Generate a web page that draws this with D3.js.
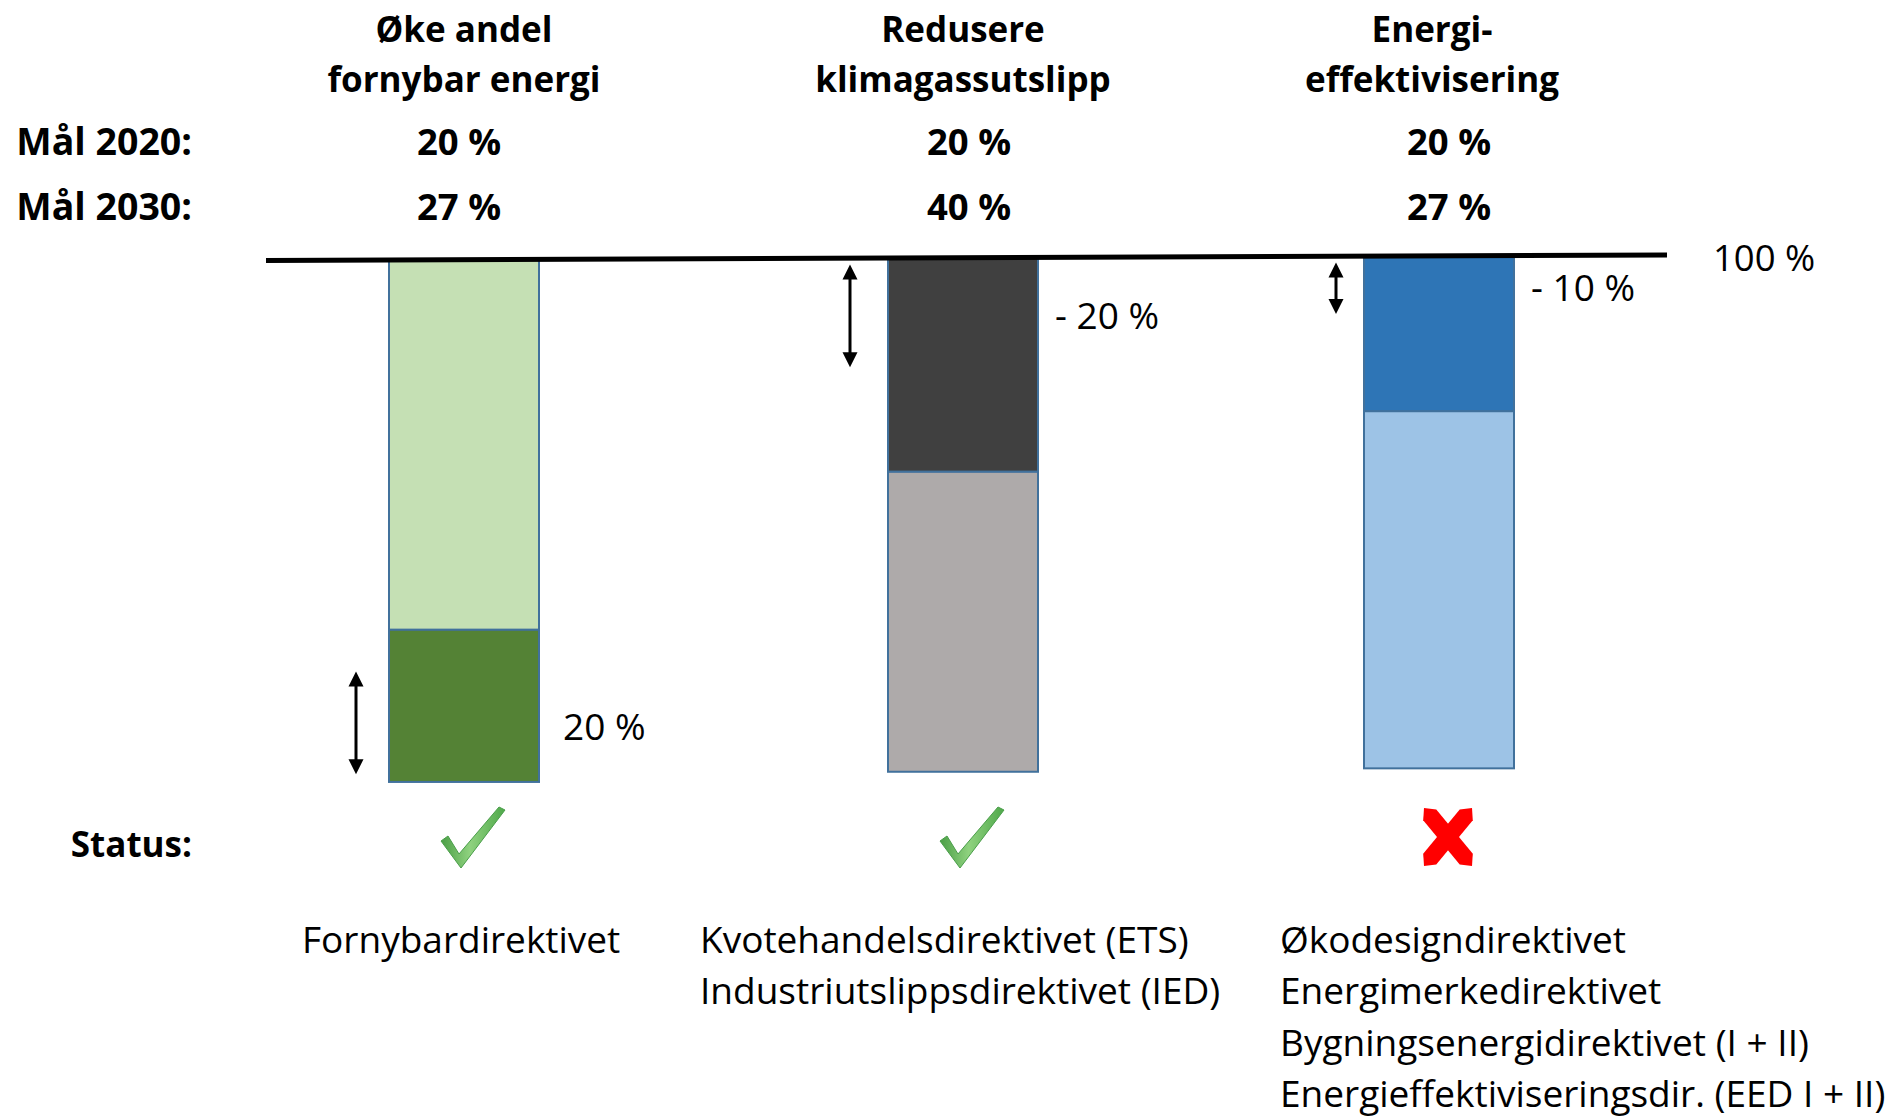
<!DOCTYPE html>
<html>
<head>
<meta charset="utf-8">
<script src="https://cdn.jsdelivr.net/npm/d3@7"></script>
<style>
  html, body { margin: 0; padding: 0; background: #ffffff; }
  svg { display: block; }
  text { font-family: "Open Sans", "Noto Sans", sans-serif; fill: #000; }
</style>
</head>
<body>
<svg id="chart" width="1893" height="1118"></svg>
<script>
// ---------- data ----------
const categories = ["Fornybar", "Klimagass", "Energieffektivisering"];
const headerLines = [
  ["Øke andel", "fornybar energi"],
  ["Redusere", "klimagassutslipp"],
  ["Energi-", "effektivisering"]
];
const goal2020 = ["20 %", "20 %", "20 %"];
const goal2030 = ["27 %", "40 %", "27 %"];
const rowLabels = ["Mål 2020:", "Mål 2030:", "Status:"];
// stacked segments from the 100 % line downward (share of bar, as drawn)
const segmentKinds = [["light", "dark"], ["dark", "light"], ["dark", "light"]];
const segmentValues = [[72.0, 29.6], [41.6, 58.4], [30.2, 69.5]];
const darkColors = ["#548235", "#404040", "#2E75B6"];
const lightColors = ["#C5E0B4", "#AEAAAA", "#9DC3E6"];
const changeValues = [20, 20, 10];
const changeLabels = ["20 %", "- 20 %", "- 10 %"];
const status = ["ok", "ok", "fail"];
const directives = [
  ["Fornybardirektivet"],
  ["Kvotehandelsdirektivet (ETS)", "Industriutslippsdirektivet (IED)"],
  ["Økodesigndirektivet", "Energimerkedirektivet", "Bygningsenergidirektivet (I + II)", "Energieffektiviseringsdir. (EED I + II)"]
];
const refLabel = "100 %";

// ---------- layout ----------
const svg = d3.select("#chart");
const x = d3.scaleOrdinal().domain(categories).range([464, 963, 1439]);
const headX = d3.scaleOrdinal().domain(categories).range([464, 963, 1432]);
const goalX = d3.scaleOrdinal().domain(categories).range([459, 969, 1449]);
const listX = d3.scaleOrdinal().domain(categories).range([302, 700, 1280]);
const arrowGap = d3.scaleOrdinal().domain(categories).range([33, 38, 28]);
const barW = 150;
const lineX0 = 266, lineX1 = 1667;
const lineY = d3.scaleLinear().domain([lineX0, lineX1]).range([260.5, 255]);
const y = d3.scaleLinear().domain([0, 100]).range([0, 514]); // offset below line

// gradient for check marks
const defs = svg.append("defs");
const g1 = defs.append("linearGradient").attr("id", "chk").attr("x1", 0).attr("y1", 0).attr("x2", 1).attr("y2", 0);
g1.append("stop").attr("offset", "0%").attr("stop-color", "#4a9e45");
g1.append("stop").attr("offset", "45%").attr("stop-color", "#8fd27f");
g1.append("stop").attr("offset", "100%").attr("stop-color", "#4fa84a");

// ---------- headers ----------
categories.forEach((c, i) => {
  const t = svg.append("text")
    .attr("x", headX(c)).attr("text-anchor", "middle")
    .style("font-weight", 700).style("font-size", "35px");
  headerLines[i].forEach((ln, j) => {
    t.append("tspan").attr("x", headX(c)).attr("y", 42 + j * 50).text(ln);
  });
  svg.append("text").attr("x", goalX(c)).attr("y", 155).attr("text-anchor", "middle")
    .style("font-weight", 700).style("font-size", "36.5px").text(goal2020[i]);
  svg.append("text").attr("x", goalX(c)).attr("y", 220).attr("text-anchor", "middle")
    .style("font-weight", 700).style("font-size", "36.5px").text(goal2030[i]);
});
[155, 220, 857].forEach((yy, i) => {
  svg.append("text").attr("x", 192).attr("y", yy).attr("text-anchor", "end")
    .style("font-weight", 700).style("font-size", i < 2 ? "37.5px" : "35px").text(rowLabels[i]);
});

// ---------- bars ----------
categories.forEach((c, i) => {
  const top = lineY(x(c));
  let acc = 0;
  const segs = segmentKinds[i].map((k, j) => {
    const s = { kind: k, v0: acc, v1: acc + segmentValues[i][j] };
    acc += segmentValues[i][j];
    return s;
  });
  const order = segs.slice().sort((a, b) => (a.kind === "light" ? -1 : 1));
  svg.append("g").selectAll("rect").data(order).join("rect")
    .attr("x", x(c) - barW / 2)
    .attr("y", d => top + y(d.v0))
    .attr("width", barW)
    .attr("height", d => y(d.v1) - y(d.v0))
    .attr("fill", d => d.kind === "dark" ? darkColors[i] : lightColors[i])
    .attr("stroke", "#41719C").attr("stroke-width", 2);
});

// ---------- 100 % line ----------
svg.append("line")
  .attr("x1", lineX0).attr("y1", lineY(lineX0))
  .attr("x2", lineX1).attr("y2", lineY(lineX1))
  .attr("stroke", "#000").attr("stroke-width", 5);
svg.append("text").attr("x", 1713).attr("y", 271).style("font-size", "36.5px").text(refLabel);

// ---------- arrows & change labels ----------
function arrow(ax, ya, yb) {
  const g = svg.append("g");
  const h = 15, w = 7.5;
  g.append("line").attr("x1", ax).attr("x2", ax).attr("y1", ya + h - 2).attr("y2", yb - h + 2)
    .attr("stroke", "#000").attr("stroke-width", 3);
  g.append("path").attr("d", `M${ax},${ya} L${ax - w},${ya + h} L${ax + w},${ya + h} Z`).attr("fill", "#000");
  g.append("path").attr("d", `M${ax},${yb} L${ax - w},${yb - h} L${ax + w},${yb - h} Z`).attr("fill", "#000");
}
categories.forEach((c, i) => {
  const top = lineY(x(c));
  const total = d3.sum(segmentValues[i]);
  let v0, v1;
  if (segmentKinds[i][0] === "light") { // growth from bottom
    v1 = total - 1.5; v0 = v1 - changeValues[i];
  } else {                                // reduction from top
    v0 = 1.3; v1 = v0 + changeValues[i];
  }
  const ax = x(c) - barW / 2 - arrowGap(c);
  arrow(ax, top + y(v0), top + y(v1));
  const mid = top + (y(v0) + y(v1)) / 2;
  svg.append("text").attr("x", x(c) + barW / 2 + (i === 0 ? 24 : 17)).attr("y", mid + (i === 0 ? 17 : 13))
    .style("font-size", "37px").text(changeLabels[i]);
});

// ---------- status marks ----------
categories.forEach((c, i) => {
  const cx = x(c) + 9, cy = 837;
  if (status[i] === "ok") {
    const pts = [[0, 34], [7, 29], [18, 47], [58, 0], [64, 3], [20, 61]]
      .map(p => [p[0] + cx - 32, p[1] + cy - 30]);
    svg.append("path").attr("d", d3.line()(pts) + "Z")
      .attr("fill", "url(#chk)").attr("stroke", "#4a9e4a").attr("stroke-width", 1);
  } else {
    const half = 29, hw = 8.5, tp = 9;
    const strokeP = (p0, p1) => {
      const dx = p1[0] - p0[0], dy = p1[1] - p0[1], L = Math.hypot(dx, dy);
      const d = [dx / L, dy / L], n = [-d[1], d[0]];
      return [
        p0,
        [p0[0] + d[0] * tp + n[0] * hw, p0[1] + d[1] * tp + n[1] * hw],
        [p1[0] - d[0] * tp + n[0] * hw, p1[1] - d[1] * tp + n[1] * hw],
        p1,
        [p1[0] - d[0] * tp - n[0] * hw, p1[1] - d[1] * tp - n[1] * hw],
        [p0[0] + d[0] * tp - n[0] * hw, p0[1] + d[1] * tp - n[1] * hw]
      ];
    };
    [[[cx - half + 5, cy - half], [cx + half - 5, cy + half]],
     [[cx + half - 5, cy - half], [cx - half + 5, cy + half]]].forEach(s => {
      svg.append("path").attr("d", d3.line()(strokeP(s[0], s[1])) + "Z").attr("fill", "#FF0000");
    });
  }
});

// ---------- directive lists ----------
categories.forEach((c, i) => {
  const t = svg.append("text").style("font-size", "37px");
  directives[i].forEach((ln, j) => {
    t.append("tspan").attr("x", listX(c)).attr("y", 953 + j * 51.3).text(ln);
  });
});
</script>
</body>
</html>
